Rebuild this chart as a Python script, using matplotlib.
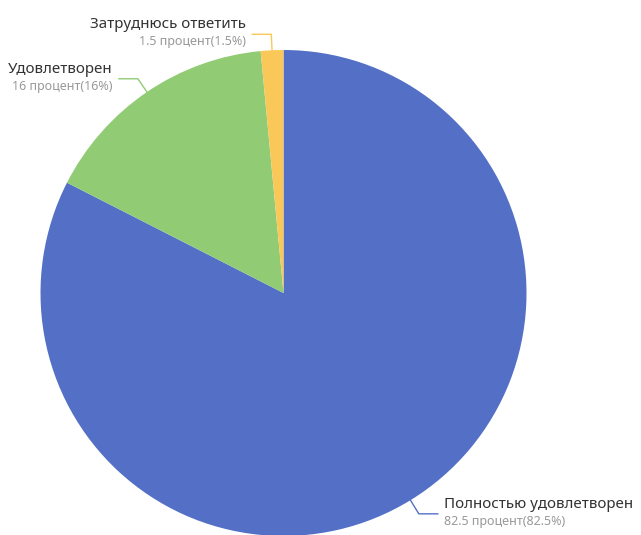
import numpy as np
import matplotlib
matplotlib.use('Agg')
import matplotlib.pyplot as plt

names = ['Полностью удовлетворен', 'Удовлетворен', 'Затруднюсь ответить']
values = [82.5, 16, 1.5]
value_labels = ['82.5', '16', '1.5']
pct_labels = ['82.5%', '16%', '1.5%']
colors = ['#5470c6', '#91cc75', '#fac858']

W, H = 641, 535
fig = plt.figure(figsize=(W / 100, H / 100), dpi=100)

# pie centre and radius in pixels
cx, cy, R = 283.5, 293, 243
ax = fig.add_axes([(cx - R) / W, (H - cy - R) / H, 2 * R / W, 2 * R / H])
ax.axis('off')

wedges, _ = ax.pie(values, colors=colors, startangle=90, counterclock=False,
                   radius=1, wedgeprops=dict(linewidth=0))
ax.set_xlim(-1, 1)
ax.set_ylim(-1, 1)
ax.set_aspect('auto')

seg1 = 16 / R
seg2 = 19 / R
gap = 6.5 / R
for w, name, v, p, c in zip(wedges, names, value_labels, pct_labels, colors):
    mid = np.deg2rad((w.theta1 + w.theta2) / 2)
    x0, y0 = np.cos(mid), np.sin(mid)
    x1, y1 = (1 + seg1) * x0, (1 + seg1) * y0
    side = 1 if x0 > 0 else -1
    x2 = x1 + side * seg2
    ax.plot([x0, x1, x2], [y0, y1, y1], color=c, lw=1, clip_on=False)
    ha = 'left' if side > 0 else 'right'
    ax.text(x2 + side * gap, y1 + 2 / R, name, ha=ha, va='bottom', fontsize=10.9,
            color='#333333', family=['Noto Sans', 'DejaVu Sans'])
    ax.text(x2 + side * gap, y1 - 1 / R, '%s процент(%s)' % (v, p), ha=ha, va='top',
            fontsize=9, color='#999999', family=['Noto Sans', 'DejaVu Sans'])

fig.savefig('out.png', dpi=100, facecolor='white')
